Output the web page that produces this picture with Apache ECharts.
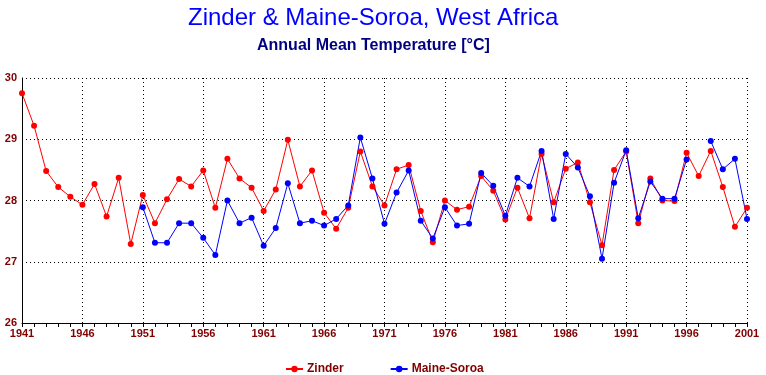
<!DOCTYPE html>
<html>
<head>
<meta charset="utf-8">
<script src="https://cdn.jsdelivr.net/npm/echarts@6/dist/echarts.min.js"></script>
<style>
html,body{margin:0;padding:0;background:#ffffff;}
#chart{width:766px;height:375px;}
</style>
</head>
<body>
<div id="chart"></div>
<script>
var years = ['1941','1942','1943','1944','1945','1946','1947','1948','1949','1950',
  '1951','1952','1953','1954','1955','1956','1957','1958','1959','1960',
  '1961','1962','1963','1964','1965','1966','1967','1968','1969','1970',
  '1971','1972','1973','1974','1975','1976','1977','1978','1979','1980',
  '1981','1982','1983','1984','1985','1986','1987','1988','1989','1990',
  '1991','1992','1993','1994','1995','1996','1997','1998','1999','2000','2001'];

var zinder = [29.75,29.22,28.48,28.22,28.06,27.93,28.27,27.74,28.37,27.29,
  28.09,27.63,28.02,28.35,28.23,28.49,27.88,28.68,28.36,28.21,
  27.83,28.18,28.99,28.23,28.49,27.80,27.54,27.88,28.80,28.23,
  27.92,28.51,28.58,27.83,27.32,28.00,27.85,27.90,28.40,28.16,
  27.69,28.21,27.71,28.76,27.97,28.52,28.62,27.97,27.27,28.50,
  28.80,27.63,28.36,28.00,27.99,28.78,28.40,28.81,28.22,27.57,27.88];

var maineSoroa = [null,null,null,null,null,null,null,null,null,null,
  27.89,27.31,27.31,27.63,27.63,27.39,27.11,28.00,27.63,27.72,
  27.26,27.55,28.28,27.63,27.67,27.59,27.70,27.92,29.03,28.36,
  27.62,28.13,28.49,27.67,27.38,27.89,27.59,27.62,28.45,28.24,
  27.75,28.37,28.23,28.81,27.70,28.76,28.54,28.07,27.05,28.29,
  28.82,27.71,28.31,28.03,28.03,28.67,null,28.97,28.51,28.68,27.70];

var titleText = 'Zinder & Maine-Soroa, West Africa';
var subtitleText = 'Annual Mean Temperature [°C]';
var seriesNames = ['Zinder', 'Maine-Soroa'];

var chart = echarts.init(document.getElementById('chart'), null, {renderer: 'canvas'});
var labelColor = '#800000';
var font = 'Liberation Sans';
chart.setOption({
  backgroundColor: '#ffffff',
  animation: false,
  title: [
    {text: titleText, left: 188, top: 6, padding: 0,
     textStyle: {color: '#0000ff', fontSize: 24, fontWeight: 'normal', fontFamily: font}},
    {text: subtitleText, left: 257, top: 38, padding: 0,
     textStyle: {color: '#000080', fontSize: 16, fontWeight: 'bold', fontFamily: font}}
  ],
  legend: {
    data: seriesNames,
    left: 280, top: 358, itemWidth: 17, itemHeight: 8, itemGap: 46,
    textStyle: {color: labelColor, fontSize: 12, fontWeight: 'bold', fontFamily: font, padding: [0,0,0,-1]}
  },
  grid: {left: 22, right: 19, top: 78, bottom: 52, containLabel: false},
  xAxis: {
    type: 'category', data: years, boundaryGap: false,
    axisLine: {lineStyle: {color: '#000', width: 1}},
    axisTick: {show: true, interval: 0, length: 4, lineStyle: {color: '#000'}},
    axisLabel: {interval: 4, color: labelColor, fontSize: 11, fontWeight: 'bold', fontFamily: font, margin: 5},
    splitLine: {show: true, interval: 4, lineStyle: {color: '#000', type: [1, 3], width: 1}}
  },
  yAxis: {
    type: 'value', min: 26, max: 30, interval: 1,
    axisLine: {show: true, lineStyle: {color: '#000', width: 1}},
    axisTick: {show: false},
    axisLabel: {color: labelColor, fontSize: 11, fontWeight: 'bold', fontFamily: font, margin: 5},
    splitLine: {show: true, lineStyle: {color: '#000', type: [1, 3], width: 1}}
  },
  series: [
    {name: seriesNames[0], type: 'line', data: zinder, color: '#ff0000',
     symbol: 'circle', symbolSize: 6, showSymbol: true,
     lineStyle: {width: 1, color: '#ff0000'}, itemStyle: {color: '#ff0000'}},
    {name: seriesNames[1], type: 'line', data: maineSoroa, color: '#0000ff', connectNulls: false,
     symbol: 'circle', symbolSize: 6, showSymbol: true,
     lineStyle: {width: 1, color: '#0000ff'}, itemStyle: {color: '#0000ff'}}
  ]
});
</script>
</body>
</html>
